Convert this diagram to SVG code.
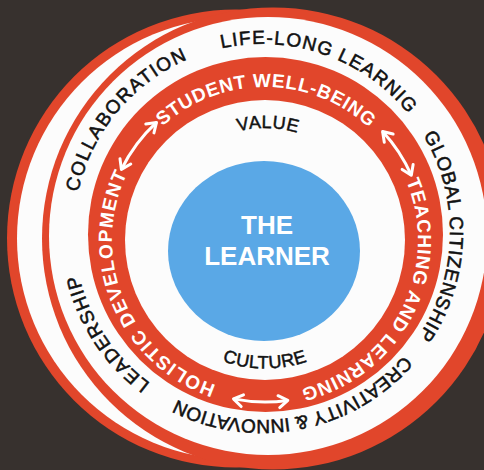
<svg xmlns="http://www.w3.org/2000/svg" width="484" height="470" viewBox="0 0 484 470">
<style>
.red{fill:#e1462b;}
.wht{fill:#fcfcfc;}
.outer{font-family:"Liberation Sans",Arial,sans-serif;font-size:19px;fill:#111111;stroke:#111111;stroke-width:0.55;}
.band{font-family:"Liberation Sans",Arial,sans-serif;font-size:19px;font-weight:bold;fill:#ffffff;}
.inner{font-family:"Liberation Sans",Arial,sans-serif;font-size:18px;fill:#111111;stroke:#111111;stroke-width:0.5;}
.title{font-family:"Liberation Sans",Arial,sans-serif;font-size:26px;font-weight:bold;fill:#ffffff;text-anchor:middle;}
.arrow{fill:none;stroke:#ffffff;stroke-width:3;marker-start:url(#ah);marker-end:url(#ah);}
</style>
<defs>
<marker id="ah" viewBox="-12 -8 14 16" refX="0" refY="0" markerWidth="14" markerHeight="16" markerUnits="userSpaceOnUse" orient="auto-start-reverse">
<path d="M-9,-6 L0,0 L-9,6" fill="none" stroke="#ffffff" stroke-width="3" stroke-linecap="round" stroke-linejoin="round"/>
</marker>
<path id="po" d="M262,420 A188,188 0 1 1 262,44 A188,188 0 1 1 262,420"/>
<path id="pb" d="M265,393 A153,153 0 1 1 265,87 A153,153 0 1 1 265,393"/>
<path id="pv" d="M265,352 A112,112 0 1 1 265,128 A112,112 0 1 1 265,352"/>
<path id="pc" d="M265,111.5 A128.5,128.5 0 1 0 265,368.5 A128.5,128.5 0 1 0 265,111.5"/>
</defs>
<rect x="0" y="0" width="484" height="470" fill="#37312e"/>
<g id="rings">
<circle class="red" cx="236" cy="238.5" r="229"/>
<circle class="wht" cx="238" cy="238.5" r="221"/>
<circle class="red" cx="273" cy="238.5" r="231"/>
<circle class="wht" cx="268" cy="236" r="219"/>
<circle class="red" cx="265.5" cy="234.5" r="177.5"/>
<circle class="wht" cx="265" cy="240" r="140"/>
</g>
<g id="learner">
<ellipse cx="264" cy="251" rx="96" ry="90" fill="#5aa8e6"/>
<text class="title" x="267" y="234">THE</text>
<text class="title" x="267" y="265">LEARNER</text>
</g>
<g id="value" transform="rotate(1.5 265 240)"><text class="inner" text-anchor="middle" letter-spacing="0.5"><textPath href="#pv" startOffset="50%">VALUE</textPath></text></g>
<g id="culture"><text class="inner" text-anchor="middle" letter-spacing="0.5"><textPath href="#pc" startOffset="50%">CULTURE</textPath></text></g>
<g id="lifelong" transform="rotate(19.5 262 232)"><text class="outer" text-anchor="middle" letter-spacing="1.2"><textPath href="#po" startOffset="50%">LIFE-LONG LEARNIG</textPath></text></g>
<g id="global" transform="rotate(91.5 262 232)"><text class="outer" text-anchor="middle" letter-spacing="0.8"><textPath href="#po" startOffset="50%">GLOBAL CITIZENSHIP</textPath></text></g>
<g id="creativity" transform="rotate(169 262 232)"><text class="outer" text-anchor="middle" letter-spacing="0"><textPath href="#po" startOffset="50%">CREATIVITY &amp; INNOVATION</textPath></text></g>
<g id="leadership" transform="rotate(236.8 262 232)"><text class="outer" text-anchor="middle" letter-spacing="1.3"><textPath href="#po" startOffset="50%">LEADERSHIP</textPath></text></g>
<g id="collaboration" transform="rotate(309.6 262 232)"><text class="outer" text-anchor="middle" letter-spacing="1.5"><textPath href="#po" startOffset="50%">COLLABORATION</textPath></text></g>
<g id="wellbeing" transform="rotate(0.5 265 240)"><text class="band" text-anchor="middle" letter-spacing="0.65"><textPath href="#pb" startOffset="50%">STUDENT WELL-BEING</textPath></text></g>
<g id="teaching" transform="rotate(117 265 240)"><text class="band" text-anchor="middle" letter-spacing="0.75"><textPath href="#pb" startOffset="50%">TEACHING AND LEARNING</textPath></text></g>
<g id="holistic" transform="rotate(247.3 265 240)"><text class="band" text-anchor="middle" letter-spacing="1.05"><textPath href="#pb" startOffset="50%">HOLISTIC DEVELOPMENT</textPath></text></g>
<g id="connectors">
<path class="arrow" d="M121.4,169.4 A160,160 0 0 1 156.5,122.4"/>
<path class="arrow" d="M382.6,131.5 A160,160 0 0 1 411.3,175.2"/>
<path class="arrow" d="M287.8,400.4 A162,162 0 0 1 233.5,398.9"/>
</g>
</svg>
